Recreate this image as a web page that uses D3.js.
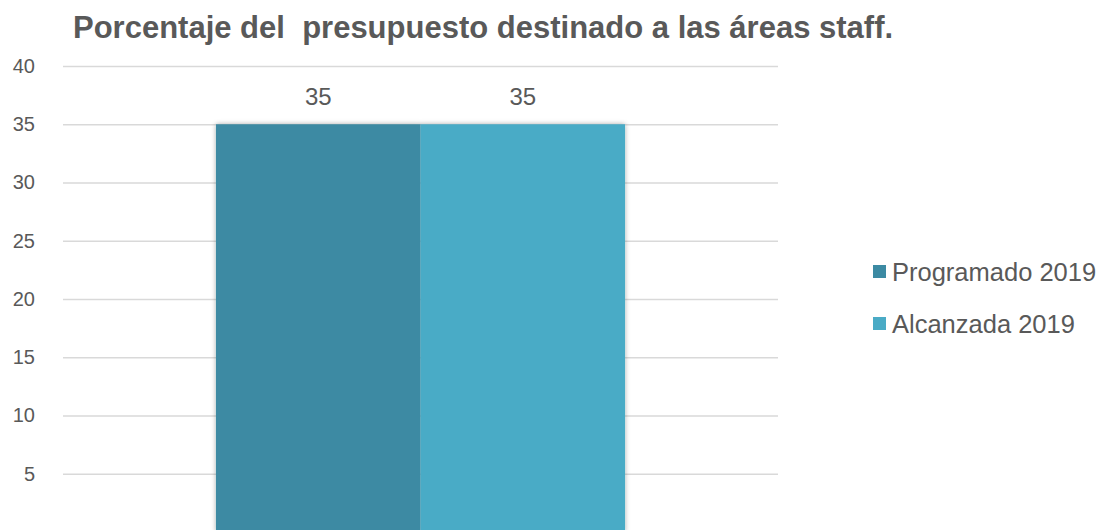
<!DOCTYPE html>
<html>
<head>
<meta charset="utf-8">
<script src="https://cdn.jsdelivr.net/npm/d3@7"></script>
<style>
  body { margin: 0; background: #fff; }
  svg { display: block; font-family: "Liberation Sans", Arial, sans-serif; }
  .grid line { stroke: #d9d9d9; stroke-width: 1.5; }
  .grid path { display: none; }
  .grid text { fill: #595959; font-size: 20px; }
</style>
</head>
<body>
<svg id="chart" width="1101" height="530"></svg>
<script>
// data
var title = "Porcentaje del  presupuesto destinado a las áreas staff.";
var categories = [""];
var seriesNames = ["Programado 2019", "Alcanzada 2019"];
var programado = [35];
var alcanzada = [35];
var yTicks = [0, 5, 10, 15, 20, 25, 30, 35, 40];
var colors = ["#3c8aa3", "#4aabc6"];

var margin = {top: 66, left: 63},
    width = 778 - 63,
    plotBottom = 532;

var svg = d3.select("#chart");

// shadow like the office chart
var defs = svg.append("defs");
var f = defs.append("filter").attr("id", "shadow")
  .attr("x", "-10%").attr("y", "-10%").attr("width", "120%").attr("height", "120%");
f.append("feDropShadow").attr("dx", 0).attr("dy", 0).attr("stdDeviation", 2.5)
  .attr("flood-color", "#000").attr("flood-opacity", 0.35);

var y = d3.scaleLinear().domain([0, 40]).range([plotBottom, margin.top]);
var x0 = d3.scaleBand().domain(categories).range([margin.left, margin.left + width])
  .paddingInner(0).paddingOuter(0.374);
var x1 = d3.scaleBand().domain(seriesNames).range([0, x0.bandwidth()]).padding(0);

// gridlines + y labels
var yAxis = svg.append("g")
  .attr("class", "grid")
  .attr("transform", "translate(" + margin.left + ",0)")
  .call(d3.axisLeft(y).tickValues(yTicks).tickSize(-width).tickPadding(28));
yAxis.selectAll(".tick").filter(function(d) { return d === 0; }).remove();

var rows = categories.map(function(c, i) {
  return {cat: c, values: [programado[i], alcanzada[i]]};
});

var grp = svg.selectAll(".cat")
  .data(rows)
  .enter().append("g")
    .attr("class", "cat")
    .attr("transform", function(d) { return "translate(" + x0(d.cat) + ",0)"; });

// bars
grp.append("g").attr("filter", "url(#shadow)")
  .selectAll("rect")
  .data(function(d) { return d.values.map(function(v, i) { return {name: seriesNames[i], value: v, i: i}; }); })
  .enter().append("rect")
    .attr("x", function(d) { return x1(d.name); })
    .attr("y", function(d) { return y(d.value); })
    .attr("width", x1.bandwidth())
    .attr("height", function(d) { return plotBottom - y(d.value); })
    .style("fill", function(d) { return colors[d.i]; });

// value labels
grp.selectAll(".val")
  .data(function(d) { return d.values.map(function(v, i) { return {name: seriesNames[i], value: v}; }); })
  .enter().append("text")
    .attr("class", "val")
    .attr("x", function(d) { return x1(d.name) + x1.bandwidth() / 2; })
    .attr("y", function(d) { return y(d.value) - 19; })
    .attr("text-anchor", "middle")
    .style("font-size", "24px")
    .style("fill", "#595959")
    .text(function(d) { return d.value; });

// title
svg.append("text")
  .attr("x", 73)
  .attr("y", 38)
  .style("font-size", "31px")
  .style("font-weight", "bold")
  .style("fill", "#595959")
  .style("white-space", "pre")
  .text(title);

// legend
var legend = svg.selectAll(".legend")
  .data(seriesNames)
  .enter().append("g")
    .attr("class", "legend")
    .attr("transform", function(d, i) { return "translate(873," + (265 + i * 52) + ")"; });
legend.append("rect")
  .attr("width", 13).attr("height", 13)
  .style("fill", function(d, i) { return colors[i]; });
legend.append("text")
  .attr("x", 19)
  .attr("y", 16)
  .style("font-size", "25.5px")
  .style("fill", "#595959")
  .text(function(d) { return d; });
</script>
</body>
</html>
